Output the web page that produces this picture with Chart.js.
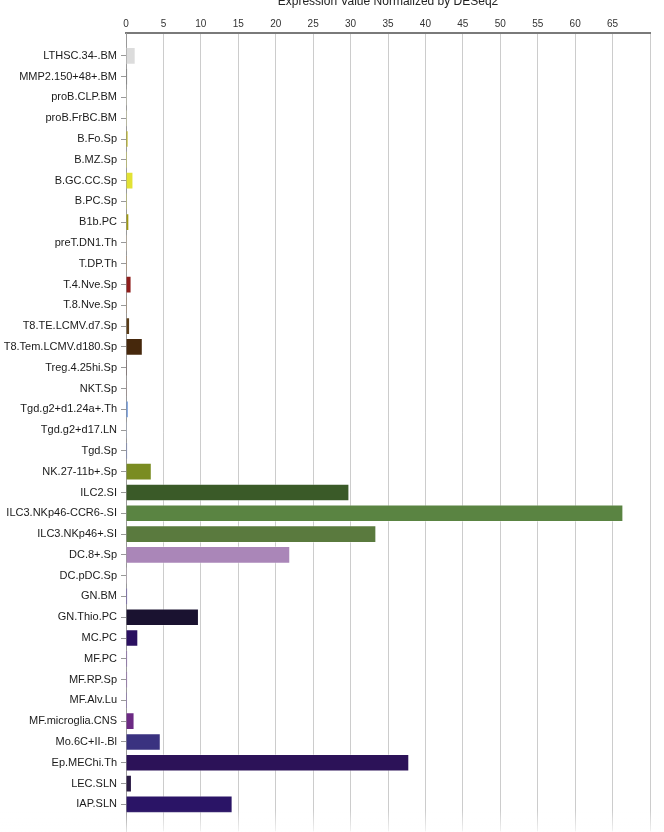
<!DOCTYPE html>
<html>
<head>
<meta charset="utf-8">
<script src="https://cdn.jsdelivr.net/npm/chart.js@4.4.1/dist/chart.umd.min.js"></script>
<style>
    html, body { margin: 0; padding: 0; background: #fff; overflow: hidden; }
    body { width: 664px; height: 832px; position: relative; }
    #wrap { position: absolute; left: 0; top: -6px; width: 664px; height: 848px; }
    #fade { position: absolute; left: 0; top: 810px; width: 664px; height: 22px;
            background: linear-gradient(rgba(255,255,255,0), rgba(255,255,255,0.75)); pointer-events: none; }
</style>
</head>
<body>
<div id="wrap"><canvas id="exprChart" width="664" height="848"></canvas></div>
<div id="fade"></div>
<script>
const cellTypes = [
    'LTHSC.34-.BM', 'MMP2.150+48+.BM', 'proB.CLP.BM', 'proB.FrBC.BM', 'B.Fo.Sp',
    'B.MZ.Sp', 'B.GC.CC.Sp', 'B.PC.Sp', 'B1b.PC', 'preT.DN1.Th',
    'T.DP.Th', 'T.4.Nve.Sp', 'T.8.Nve.Sp', 'T8.TE.LCMV.d7.Sp', 'T8.Tem.LCMV.d180.Sp',
    'Treg.4.25hi.Sp', 'NKT.Sp', 'Tgd.g2+d1.24a+.Th', 'Tgd.g2+d17.LN', 'Tgd.Sp',
    'NK.27-11b+.Sp', 'ILC2.SI', 'ILC3.NKp46-CCR6-.SI', 'ILC3.NKp46+.SI', 'DC.8+.Sp',
    'DC.pDC.Sp', 'GN.BM', 'GN.Thio.PC', 'MC.PC', 'MF.PC',
    'MF.RP.Sp', 'MF.Alv.Lu', 'MF.microglia.CNS', 'Mo.6C+II-.Bl', 'Ep.MEChi.Th',
    'LEC.SLN', 'IAP.SLN'
];

const exprValues = [
    1.25, 0.15, 0.05, 0.05, 0.25,
    0.1, 0.95, 0.1, 0.4, 0.05,
    0.1, 0.7, 0.05, 0.5, 2.2,
    0.1, 0.05, 0.3, 0.05, 0.15,
    3.4, 29.8, 66.4, 33.4, 21.9,
    0.05, 0.15, 9.7, 1.6, 0.15,
    0.15, 0.1, 1.1, 4.6, 37.8,
    0.75, 14.2
];

const barColors = [
    '#dcdcdc', '#6a6a6a', '#d8d8c0', '#e0e0a0', '#b8b000',
    '#d0d040', '#e2e234', '#c8c850', '#a09a10', '#c8b090',
    '#b08860', '#8e1c1a', '#a07850', '#5a3c18', '#46280c',
    '#5a4040', '#907070', '#5a8ad8', '#98a8c8', '#6878b8',
    '#7a8c22', '#3a5a28', '#5a8442', '#5a7a3e', '#aa86b8',
    '#c0a8c0', '#5840a8', '#1a1230', '#2a1060', '#8050b0',
    '#8a58b0', '#7a58b0', '#6c2a84', '#3a3280', '#2c1258',
    '#2a1a44', '#2a1466'
];

const xTickMax = 70;

const points = exprValues.map((v, i) => ({ x: v, y: i }));

const ctx = document.getElementById('exprChart').getContext('2d');
const exprChart = new Chart(ctx, {
    type: 'bar',
    data: {
        datasets: [{
            data: points,
            backgroundColor: barColors,
            borderColor: 'rgba(255,255,255,0.3)',
            borderWidth: 1,
            barThickness: 17
        }]
    },
    options: {
        indexAxis: 'y',
        responsive: false,
        animation: false,
        layout: { padding: { left: 0, right: 14, top: 0, bottom: 0 } },
        plugins: {
            legend: { display: false },
            tooltip: { enabled: false }
        },
        scales: {
            x: {
                type: 'linear',
                position: 'top',
                min: 0,
                max: xTickMax,
                z: 1,
                afterFit: axis => { axis.height = 39; },
                ticks: {
                    stepSize: 5,
                    padding: 3,
                    color: '#333',
                    font: { family: 'Liberation Sans, Arial', size: 10 },
                    callback: value => value === xTickMax ? '' : value
                },
                grid: {
                    color: 'rgba(0,0,0,0.2)',
                    lineWidth: 1,
                    drawTicks: false
                },
                border: { color: '#7a7a7a', width: 2 },
                title: {
                    display: true,
                    text: 'Expression Value Normalized by DESeq2',
                    color: '#222',
                    padding: { top: 0, bottom: 0 },
                    font: { family: 'Liberation Sans, Arial', size: 12 }
                }
            },
            y: {
                type: 'linear',
                reverse: true,
                offset: false,
                min: -1.1,
                max: 37.3,
                afterFit: axis => { axis.width = 126; },
                afterBuildTicks: axis => {
                    axis.ticks = cellTypes.map((name, i) => ({ value: i }));
                },
                ticks: {
                    autoSkip: false,
                    padding: 4,
                    color: '#1a1a1a',
                    font: { family: 'Liberation Sans, Arial', size: 11 },
                    callback: value => cellTypes[value]
                },
                grid: {
                    offset: false,
                    drawOnChartArea: false,
                    drawTicks: true,
                    tickLength: 5,
                    color: '#999'
                },
                border: { color: '#999', width: 1 }
            }
        }
    }
});
</script>
</body>
</html>
